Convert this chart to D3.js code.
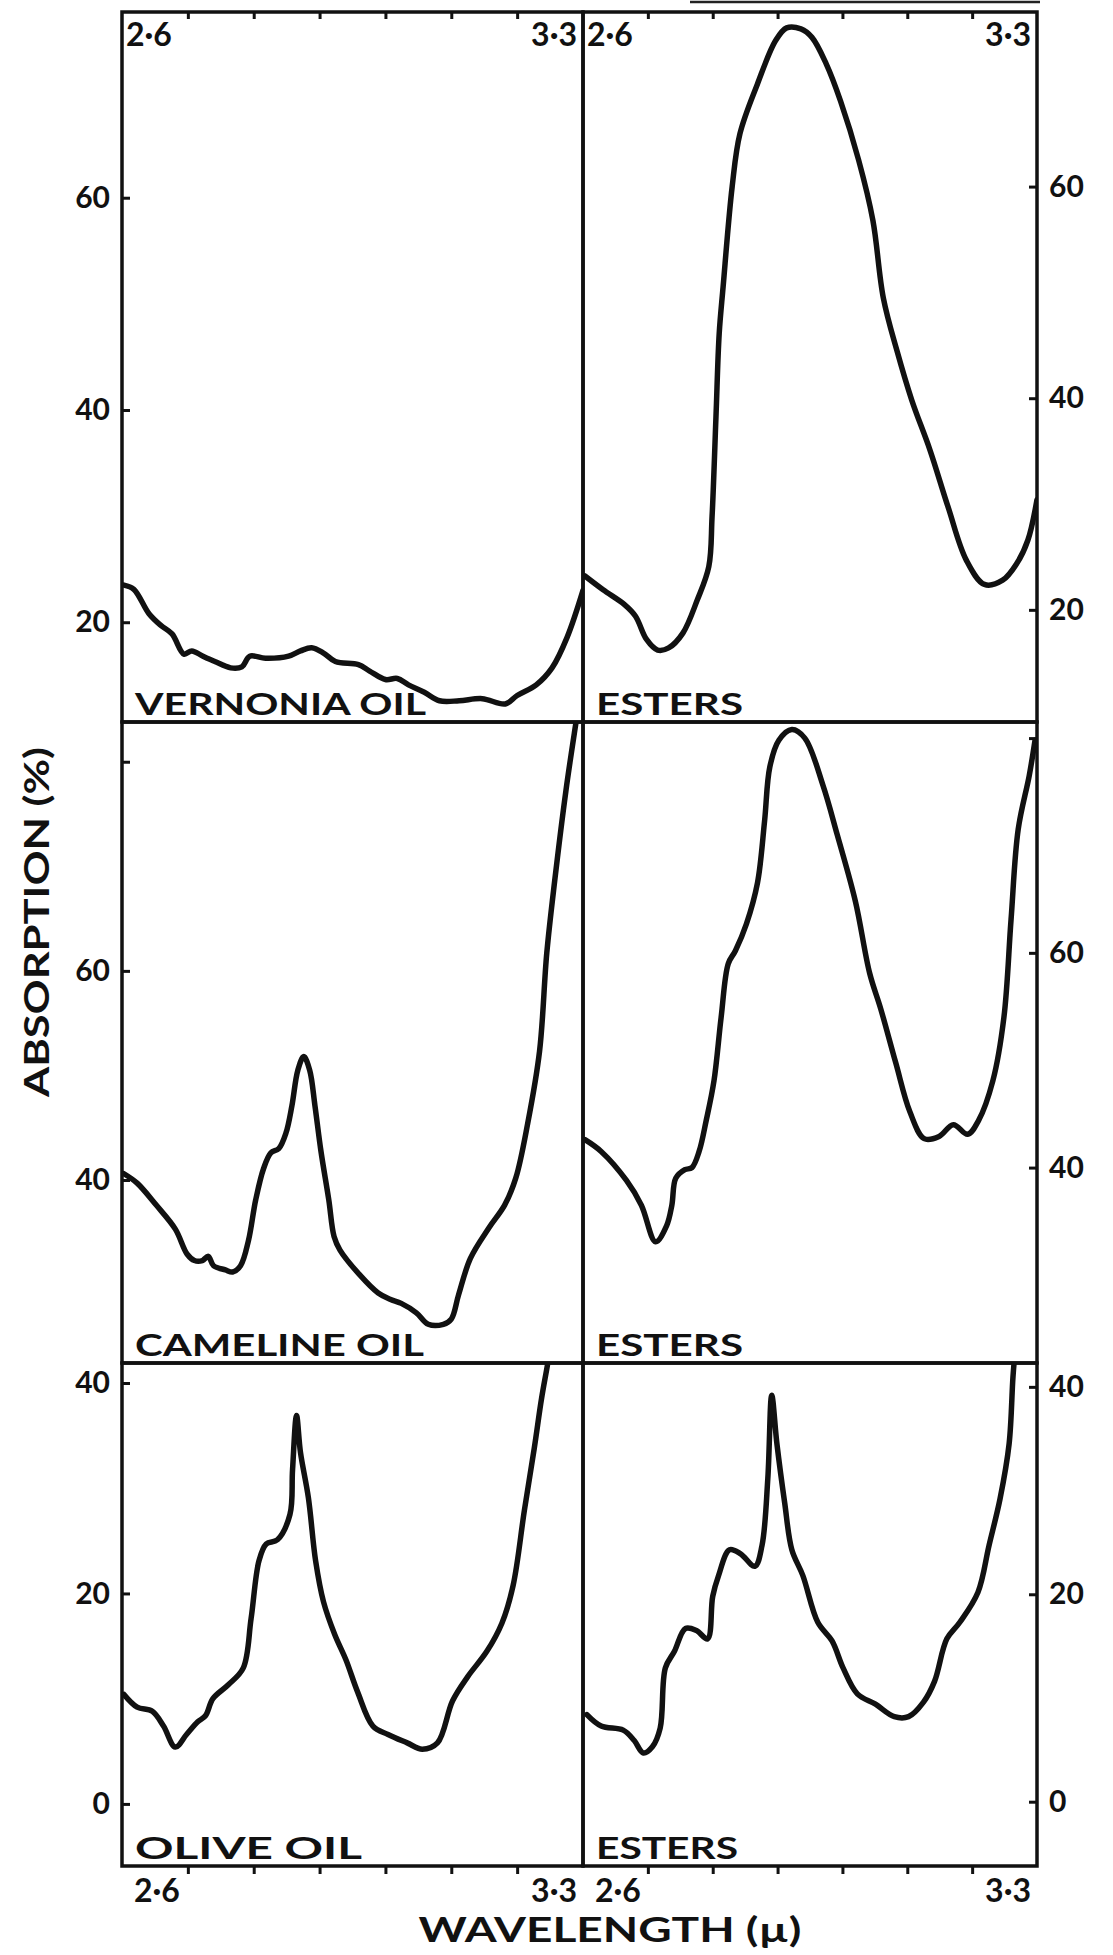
<!DOCTYPE html>
<html>
<head>
<meta charset="utf-8">
<script src="https://cdn.jsdelivr.net/npm/d3@7"></script>
<style>
    body { margin: 0; background: #fff; }
    text { font-family: Lato, "DejaVu Sans", sans-serif; font-weight: bold; fill: #111; }
</style>
</head>
<body>
<svg id="svg" width="1113" height="1955"></svg>
<script>
// wavelength (micron), absorption (%)
var vernoniaOil = [[2.603, 23.5], [2.618, 23.1], [2.641, 20.8], [2.659, 19.7], [2.676, 18.9], [2.694, 17.0],
    [2.706, 17.3], [2.723, 16.8], [2.741, 16.3], [2.765, 15.7], [2.782, 15.8], [2.794, 16.8], [2.818, 16.6],
    [2.853, 16.8], [2.871, 17.3], [2.888, 17.6], [2.906, 17.1], [2.924, 16.3], [2.959, 16.0], [2.976, 15.4],
    [3.0, 14.6], [3.018, 14.7], [3.035, 14.1], [3.059, 13.4], [3.082, 12.6], [3.112, 12.6], [3.147, 12.8],
    [3.182, 12.3], [3.2, 13.1], [3.229, 14.1], [3.253, 15.7], [3.276, 18.6], [3.3, 23.0]]

var vernoniaEsters = [[2.603, 23.2], [2.631, 21.9], [2.664, 20.5], [2.681, 19.4], [2.698, 17.2], [2.715, 16.2],
    [2.732, 16.4], [2.754, 17.8], [2.776, 20.9], [2.794, 24.1], [2.799, 28.8], [2.805, 38.2], [2.81, 46.1],
    [2.816, 50.5], [2.83, 60], [2.842, 65], [2.869, 69.7], [2.897, 73.8], [2.914, 75], [2.936, 74.9],
    [2.953, 74.1], [2.975, 71.6], [2.997, 68.1], [3.025, 62.5], [3.047, 56.8], [3.063, 49.5], [3.084, 44.5],
    [3.107, 39.8], [3.135, 35.1], [3.163, 29.7], [3.191, 24.7], [3.219, 22.4], [3.247, 22.8], [3.269, 24.4],
    [3.286, 26.6], [3.3, 30.4]]

var camelineOil = [[2.603, 40.6], [2.623, 39.7], [2.652, 37.6], [2.681, 35.3], [2.699, 32.9], [2.71, 32.3],
    [2.722, 32.3], [2.731, 32.7], [2.739, 31.8], [2.757, 31.4], [2.768, 31.2], [2.78, 31.8], [2.792, 34.2],
    [2.803, 38.1], [2.815, 41.1], [2.826, 42.6], [2.838, 43.0], [2.849, 44.5], [2.858, 47.1], [2.867, 50.5],
    [2.876, 51.8], [2.885, 50.5], [2.893, 47.1], [2.902, 42.8], [2.914, 38.1], [2.922, 34.6], [2.931, 33.3],
    [2.96, 31.0], [2.989, 29.2], [3.007, 28.6], [3.024, 28.2], [3.047, 27.3], [3.065, 26.2], [3.088, 26.2],
    [3.1, 26.7], [3.111, 29.0], [3.129, 32.5], [3.158, 35.5], [3.181, 37.6], [3.198, 40.2], [3.216, 45.4],
    [3.234, 52.3], [3.245, 61.7], [3.257, 68.6], [3.274, 77.2], [3.288, 83.2], [3.295, 86]]

var camelineEsters = [[2.603, 42.6], [2.628, 41.5], [2.667, 38.8], [2.69, 36.5], [2.712, 33.1], [2.729, 34.6],
    [2.737, 36.5], [2.743, 39.0], [2.757, 39.8], [2.768, 40.0], [2.779, 41.5], [2.79, 44.4], [2.802, 48.1],
    [2.813, 54.0], [2.824, 59.0], [2.835, 60.2], [2.852, 62.7], [2.869, 66.5], [2.88, 72.3], [2.888, 77.3],
    [2.902, 79.8], [2.922, 80.8], [2.942, 80.0], [2.97, 75.6], [2.992, 71.0], [3.02, 64.8], [3.042, 58.1],
    [3.059, 54.8], [3.082, 49.8], [3.104, 45.2], [3.126, 42.7], [3.149, 42.9], [3.171, 44.0], [3.193, 43.1],
    [3.21, 44.4], [3.232, 48.1], [3.249, 54.0], [3.26, 63.1], [3.271, 71.5], [3.288, 76.5], [3.297, 79.8]]

var oliveOil = [[2.603, 10.4], [2.623, 9.2], [2.646, 8.8], [2.663, 7.4], [2.681, 5.4], [2.698, 6.6],
    [2.715, 7.8], [2.727, 8.4], [2.738, 10.0], [2.761, 11.3], [2.784, 12.9], [2.796, 17.6], [2.808, 23.1],
    [2.819, 24.7], [2.836, 25.1], [2.855, 27.5], [2.859, 31.8], [2.865, 36.9], [2.871, 33.4], [2.883, 29.1],
    [2.894, 23.1], [2.906, 19.2], [2.923, 16.1], [2.94, 13.7], [2.958, 10.6], [2.981, 7.4], [3.004, 6.6],
    [3.033, 5.8], [3.056, 5.2], [3.079, 5.8], [3.102, 9.8], [3.125, 12.1], [3.154, 14.5], [3.177, 17.2],
    [3.194, 20.8], [3.211, 27.9], [3.226, 33.8], [3.237, 38.5], [3.246, 41.7], [3.252, 44]]

var oliveEsters = [[2.606, 8.4], [2.628, 7.3], [2.662, 6.9], [2.679, 5.9], [2.693, 4.7], [2.707, 5.3],
    [2.719, 7.1], [2.727, 12.9], [2.741, 14.5], [2.758, 16.7], [2.775, 16.5], [2.792, 15.7], [2.8, 19.8],
    [2.809, 21.8], [2.826, 24.3], [2.843, 23.9], [2.865, 22.7], [2.876, 24.7], [2.885, 31.2], [2.891, 39.2],
    [2.899, 34.5], [2.911, 28.8], [2.922, 24.3], [2.939, 21.8], [2.962, 17.3], [2.984, 15.5], [3.001, 12.9],
    [3.023, 10.4], [3.051, 9.4], [3.08, 8.2], [3.102, 8.2], [3.125, 9.6], [3.142, 11.6], [3.161, 15.7],
    [3.181, 17.3], [3.209, 20.2], [3.226, 24.7], [3.243, 29.2], [3.257, 34.5], [3.263, 41.0], [3.267, 44]]

var panelNames = ['VERNONIA OIL', 'ESTERS', 'CAMELINE OIL', 'ESTERS', 'OLIVE OIL', 'ESTERS']
var wavelengthTicks = [2.7, 2.8, 2.9, 3.0, 3.1, 3.2]
var endLabels = ['2·6', '3·3']
var rowTicks = [[20, 40, 60], [40, 60, 80], [0, 20, 40]]
var rowLabelled = [[20, 40, 60], [40, 60], [0, 20, 40]]

// frame geometry of the scanned figure
var colX = [122, 583, 1037]
var rowY = [12, 722, 1363, 1866]
var yDomains = [[[10.6, 77.5], [9.4, 76.5]], [[22.5, 83.8], [21.8, 81.5]], [[-5.9, 41.9], [-6.2, 42.3]]]
var nameWidths = [291, 147, 289, 147, 227, 142]

var svg = d3.select('#svg')
var series = [vernoniaOil, vernoniaEsters, camelineOil, camelineEsters, oliveOil, oliveEsters]

svg.append('rect').attr('width', 1113).attr('height', 1955).style('fill', '#fff')

// remains of the rule above the figure
svg.append('line')
    .attr('x1', 690).attr('x2', 1040).attr('y1', 2).attr('y2', 2)
    .style('stroke', '#222').style('stroke-width', 2.5)

series.forEach(function(data, i) {

    var row = Math.floor(i / 2),
        col = i % 2
    var x0 = colX[col], x1 = colX[col + 1],
        y0 = rowY[row], y1 = rowY[row + 1]

    var x = d3.scaleLinear().domain([2.6, 3.3]).range([x0, x1])
    var y = d3.scaleLinear().domain(yDomains[row][col]).range([y1, y0])

    var g = svg.append('g').attr('class', 'panel')

    g.append('clipPath').attr('id', 'clip' + i)
        .append('rect')
        .attr('x', x0).attr('y', y0)
        .attr('width', x1 - x0).attr('height', y1 - y0)

    var line = d3.line()
        .x(function(d) { return x(d[0]) })
        .y(function(d) { return y(d[1]) })
        .curve(d3.curveCatmullRom.alpha(0.5))

    g.append('path')
        .datum(data)
        .attr('d', line)
        .attr('clip-path', 'url(#clip' + i + ')')
        .style('fill', 'none')
        .style('stroke', '#111')
        .style('stroke-width', 5.5)
        .style('stroke-linejoin', 'round')
        .style('stroke-linecap', 'round')

    // y ticks point into the panel, labels outside
    var labelled = rowLabelled[row]
    var yAxis = (col == 0 ? d3.axisLeft(y) : d3.axisRight(y))
        .tickValues(rowTicks[row])
        .tickSize(-8)
        .tickPadding(12)
        .tickFormat(function(d) { return labelled.indexOf(d) >= 0 ? d : '' })

    var ya = g.append('g')
        .attr('transform', 'translate(' + (col == 0 ? x0 : x1) + ',0)')
        .call(yAxis)
    ya.select('.domain').remove()
    ya.selectAll('line').style('stroke', '#111').style('stroke-width', 3)
    ya.selectAll('text').style('font-size', '30px').attr('fill', '#111')
        .style('font-family', 'Lato, "DejaVu Sans", sans-serif')

    // wavelength ticks on the outer edges only
    if (row == 0 || row == 2) {
        var xAxis = (row == 0 ? d3.axisTop(x).tickSize(-7) : d3.axisBottom(x).tickSize(8))
            .tickValues(wavelengthTicks)
            .tickFormat('')
        var xa = g.append('g')
            .attr('transform', 'translate(0,' + (row == 0 ? y0 : y1) + ')')
            .call(xAxis)
        xa.select('.domain').remove()
        xa.selectAll('line').style('stroke', '#111').style('stroke-width', 3)

        var ty = row == 0 ? y0 + 34 : y1 + 36
        g.append('text').attr('x', x0 + (row == 0 ? 4 : 12)).attr('y', ty)
            .style('font-size', '32px').text(endLabels[0])
        g.append('text').attr('x', x1 - 6).attr('y', ty)
            .attr('text-anchor', 'end')
            .style('font-size', '32px').text(endLabels[1])
    }

    g.append('text')
        .attr('x', x0 + 13)
        .attr('y', y1 - 7)
        .attr('textLength', nameWidths[i])
        .attr('lengthAdjust', 'spacingAndGlyphs')
        .style('font-size', '31px')
        .text(panelNames[i])

    g.append('rect')
        .attr('x', x0).attr('y', y0)
        .attr('width', x1 - x0).attr('height', y1 - y0)
        .style('fill', 'none')
        .style('stroke', '#111')
        .style('stroke-width', 3.5)
})

svg.append('text')
    .attr('transform', 'translate(49,922) rotate(-90)')
    .attr('text-anchor', 'middle')
    .attr('textLength', 350)
    .attr('lengthAdjust', 'spacingAndGlyphs')
    .style('font-size', '34px')
    .text('ABSORPTION (%)')

svg.append('text')
    .attr('x', 610)
    .attr('y', 1942)
    .attr('text-anchor', 'middle')
    .attr('textLength', 383)
    .attr('lengthAdjust', 'spacingAndGlyphs')
    .style('font-size', '34px')
    .text('WAVELENGTH (\u00b5)')
</script>
</body>
</html>
